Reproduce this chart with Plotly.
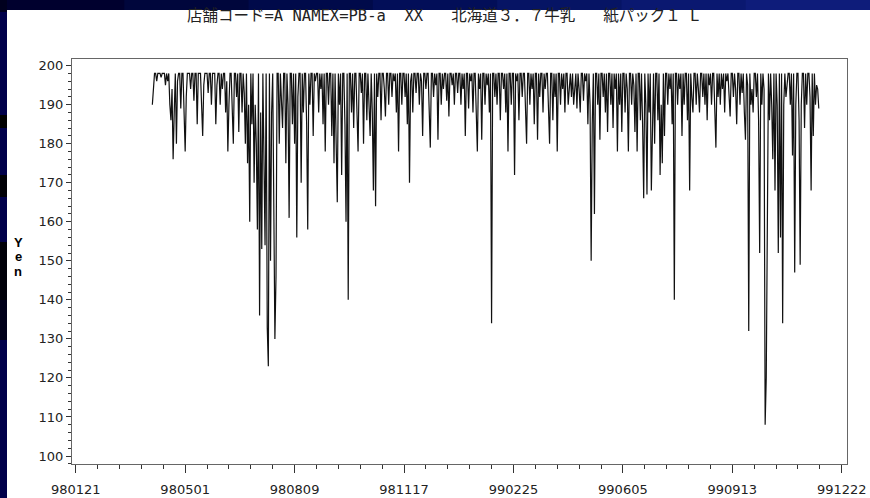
import pandas as pd
import plotly.graph_objects as go

# ---------------- data ----------------
START_DATE = "1998-04-01"
PRICE_YEN = [
    190, 195, 198, 198, 196, 198, 198, 198, 197, 198,
    198, 198, 195, 198, 196, 198, 190, 186, 194, 176,
    188, 198, 180, 196, 198, 198, 189, 198, 198, 190,
    178, 192, 198, 198, 198, 194, 198, 198, 191, 198,
    198, 185, 198, 198, 198, 190, 182, 195, 198, 198,
    198, 193, 198, 198, 190, 198, 198, 198, 185, 195,
    198, 198, 190, 198, 194, 198, 198, 188, 196, 178,
    190, 198, 198, 185, 180, 198, 198, 192, 198, 183,
    198, 198, 188, 198, 193, 180, 198, 175, 190, 160,
    198, 185, 198, 170, 190, 180, 158, 198, 136, 188,
    153, 198, 172, 154, 198, 133, 123, 198, 150, 188,
    198, 170, 130, 146, 198, 198, 180, 198, 190, 184,
    198, 198, 175, 198, 190, 161, 198, 198, 185, 198,
    180, 198, 156, 192, 198, 198, 170, 198, 188, 198,
    198, 185, 158, 198, 190, 198, 198, 182, 198, 196,
    198, 198, 188, 198, 194, 198, 185, 198, 178, 198,
    198, 190, 198, 198, 182, 198, 175, 198, 180, 165,
    198, 190, 198, 172, 198, 198, 185, 160, 198, 140,
    198, 198, 188, 198, 184, 198, 198, 190, 178, 198,
    198, 193, 198, 180, 198, 198, 186, 198, 190, 182,
    198, 188, 168, 198, 164, 198, 192, 198, 198, 186,
    198, 198, 194, 187, 198, 198, 190, 198, 198, 192,
    198, 196, 198, 188, 198, 178, 198, 198, 190, 198,
    198, 192, 198, 185, 198, 170, 196, 198, 188, 198,
    198, 193, 198, 198, 190, 198, 196, 182, 198, 198,
    194, 198, 198, 188, 179, 198, 198, 192, 198, 195,
    198, 181, 198, 198, 190, 198, 194, 198, 198, 191,
    198, 187, 198, 198, 195, 198, 190, 198, 198, 193,
    198, 198, 190, 198, 194, 198, 182, 198, 198, 189,
    198, 196, 198, 188, 198, 198, 190, 178, 198, 194,
    198, 181, 198, 198, 190, 198, 195, 198, 188, 198,
    134, 198, 198, 192, 198, 190, 198, 198, 186, 198,
    198, 194, 198, 188, 198, 178, 198, 198, 190, 198,
    198, 172, 198, 196, 198, 186, 198, 198, 192, 198,
    198, 188, 180, 198, 198, 190, 198, 194, 198, 185,
    198, 198, 181, 198, 192, 198, 198, 188, 198, 194,
    198, 198, 190, 180, 198, 198, 186, 198, 192, 198,
    178, 198, 198, 190, 198, 194, 198, 188, 198, 198,
    190, 196, 198, 192, 198, 190, 194, 198, 189, 198,
    194, 188, 198, 198, 191, 198, 196, 198, 185, 198,
    190, 150, 185, 198, 162, 198, 198, 190, 198, 181,
    198, 198, 192, 198, 188, 198, 183, 198, 198, 190,
    198, 184, 198, 194, 198, 178, 198, 190, 198, 183,
    198, 198, 188, 198, 194, 178, 198, 198, 190, 198,
    195, 183, 198, 178, 198, 198, 186, 198, 185, 166,
    198, 190, 167, 198, 188, 198, 168, 190, 198, 180,
    198, 198, 186, 198, 172, 190, 175, 198, 182, 198,
    198, 190, 198, 194, 198, 185, 198, 140, 198, 198,
    190, 198, 194, 198, 182, 198, 190, 198, 198, 186,
    198, 168, 198, 192, 188, 198, 198, 190, 198, 194,
    188, 198, 198, 192, 198, 190, 198, 186, 198, 195,
    198, 190, 198, 198, 188, 179, 198, 192, 198, 190,
    198, 194, 198, 188, 198, 196, 198, 190, 187, 198,
    198, 192, 198, 194, 185, 198, 198, 190, 198, 193,
    198, 188, 181, 198, 195, 132, 198, 190, 194, 188,
    198, 198, 192, 198, 186, 152, 198, 190, 198, 194,
    108, 120, 150, 198, 186, 198, 190, 176, 198, 168,
    198, 190, 152, 198, 156, 198, 134, 190, 198, 192,
    195, 198, 198, 190, 198, 177, 198, 147, 190, 198,
    198, 186, 149, 190, 198, 198, 184, 198, 190, 198,
    198, 192, 168, 198, 182, 198, 190, 195, 194, 189,
]
DATES = pd.date_range(START_DATE, periods=len(PRICE_YEN), freq="D")

TITLE = ("店舗コード=A NAMEX=PB-a\u00a0\u00a0XX\u00a0\u00a0\u00a0北海道３．７牛乳"
         "\u00a0\u00a0\u00a0紙パック１\u00a0L")
Y_LABEL_LETTERS = ["Y", "e", "n"]

# ---------------- layout geometry (pixels) ----------------
W, H = 870, 498
L, R, T, B = 72, 23, 59, 34
PW, PH = W - L - R, H - T - B


def px(x):
    return (x - L) / PW


def py(y):
    return (H - B - y) / PH


DAY_MS = 86400000

fig = go.Figure()
fig.add_trace(go.Scatter(
    x=DATES, y=PRICE_YEN, mode="lines",
    line=dict(color="#111111", width=1.2),
    showlegend=False, hoverinfo="skip",
))

shapes = []
# white slide area
shapes.append(dict(type="rect", xref="paper", yref="paper", layer="below",
                   x0=px(7), x1=px(880), y0=py(10), y1=py(510),
                   fillcolor="white", line=dict(width=0)))
# top strip gradient (dark to lighter blue)
top_cols = ["#00002e", "#00063c", "#000a4a", "#020e58", "#061464", "#0a1870", "#0e1c7a"]
seg = W / len(top_cols)
for i, c in enumerate(top_cols):
    shapes.append(dict(type="rect", xref="paper", yref="paper", layer="below",
                       x0=px(i * seg), x1=px((i + 1) * seg + 1), y0=py(0), y1=py(10),
                       fillcolor=c, line=dict(width=0)))
# dark patches on left strip
for y0, y1, c in [(0, 12, "#00001e"), (115, 128, "#000000"), (175, 197, "#000005"),
                  (242, 300, "#000008"), (300, 340, "#00001a")]:
    shapes.append(dict(type="rect", xref="paper", yref="paper", layer="below",
                       x0=px(0), x1=px(7), y0=py(y0), y1=py(y1),
                       fillcolor=c, line=dict(width=0)))

annotations = [
    dict(text=TITLE, xref="paper", yref="paper", x=px(443), y=py(16),
         xanchor="center", yanchor="middle", showarrow=False,
         font=dict(family="DejaVu Sans Mono, Noto Sans CJK JP", size=15.5, color="#222222")),
]
for i, ch in enumerate(Y_LABEL_LETTERS):
    annotations.append(dict(text="<b>" + ch + "</b>", xref="paper", yref="paper",
                            x=px(18), y=py(242 + 14.5 * i),
                            xanchor="center", yanchor="middle", showarrow=False,
                            font=dict(family="Liberation Sans, Arial", size=13, color="#000000")))

fig.update_layout(
    template="none",
    width=W, height=H,
    margin=dict(l=L, r=R, t=T, b=B, pad=0, autoexpand=False),
    paper_bgcolor="#00004a",
    plot_bgcolor="white",
    shapes=shapes,
    annotations=annotations,
)

fig.update_xaxes(
    type="date", automargin=False,
    range=["1998-01-17 14:00", "1999-12-26 19:00"],
    tick0="1998-01-21", dtick=100 * DAY_MS, tickformat="%y%m%d",
    ticks="outside", ticklen=8, tickwidth=1, tickcolor="#333333",
    ticklabelstandoff=5,
    minor=dict(tick0="1998-01-21", dtick=20 * DAY_MS, ticks="outside",
               ticklen=4, tickwidth=1, tickcolor="#333333", showgrid=False),
    showline=True, linecolor="#666666", linewidth=1, mirror=True,
    showgrid=False, zeroline=False,
    tickfont=dict(family="DejaVu Sans", size=13, color="#222222"),
)
fig.update_yaxes(
    automargin=False,
    range=[97.95, 201.7],
    tick0=100, dtick=10,
    ticks="outside", ticklen=5, tickwidth=1, tickcolor="#333333",
    minor=dict(dtick=2, ticks="outside", ticklen=3, tickwidth=1,
               tickcolor="#333333", showgrid=False),
    showline=True, linecolor="#666666", linewidth=1, mirror=True,
    showgrid=False, zeroline=False,
    tickfont=dict(family="DejaVu Sans", size=13, color="#222222"),
)

fig.write_html("out.html")
